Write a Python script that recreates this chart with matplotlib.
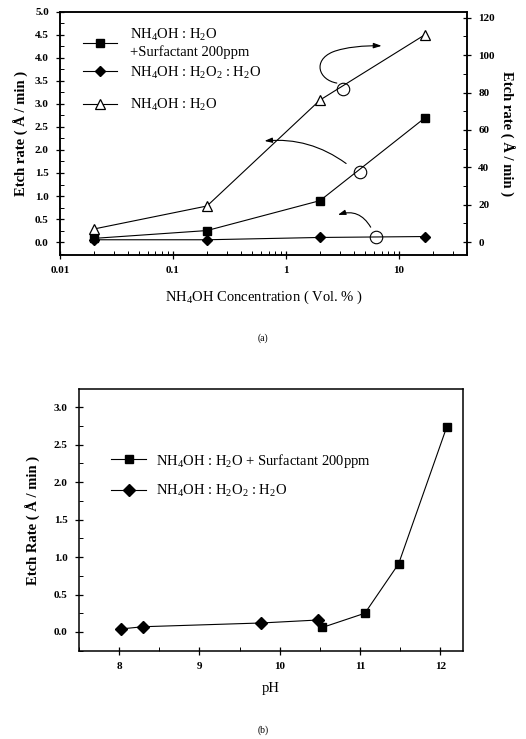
import numpy as np
import matplotlib
matplotlib.use('Agg')
import matplotlib.pyplot as plt
from matplotlib.path import Path
from matplotlib.patches import FancyArrowPatch
from matplotlib.ticker import MultipleLocator, LogLocator, NullFormatter, FixedLocator

plt.rcParams['font.family'] = ['Liberation Serif', 'DejaVu Serif']
plt.rcParams['mathtext.fontset'] = 'custom'
plt.rcParams['mathtext.rm'] = 'Liberation Serif'
plt.rcParams['mathtext.it'] = 'Liberation Serif:italic'
plt.rcParams['mathtext.bf'] = 'Liberation Serif:bold'

# ---- data (a): etch rate vs NH4OH concentration
conc = [0.02, 0.2, 2.0, 17.0]
surf_rate = [0.08, 0.25, 0.9, 2.7]        # left axis
h2o2_rate = [0.05, 0.05, 0.1, 0.12]       # left axis
h2o_rate = [7.0, 19.3, 76.0, 111.0]       # right axis

# ---- data (b): etch rate vs pH
ph_h2o2 = [8.02, 8.3, 9.77, 10.48]
rate_h2o2 = [0.04, 0.07, 0.12, 0.16]
ph_surf = [10.53, 11.06, 11.48, 12.08]
rate_surf = [0.06, 0.25, 0.91, 2.74]

lbl_surf = 'NH$_4$OH : H$_2$O\n+Surfactant 200ppm'
lbl_h2o2 = 'NH$_4$OH : H$_2$O$_2$ : H$_2$O'
lbl_h2o = 'NH$_4$OH : H$_2$O'

fig = plt.figure(figsize=(5.26, 7.39), dpi=100)

def style_ticks(ax):
    ax.tick_params(which='major', direction='inout', length=6, width=0.9,
                   labelsize=8, pad=5)
    ax.tick_params(which='minor', direction='in', length=3, width=0.7)
    for lab in ax.get_xticklabels() + ax.get_yticklabels():
        lab.set_fontweight('bold')
    for s in ax.spines.values():
        s.set_linewidth(1.1)

# ================= (a) =================
ax1 = fig.add_axes([0.114, 0.655, 0.774, 0.329])
ax1.set_xscale('log')
ax1.set_xlim(0.01, 40)
ax1.set_ylim(-0.28, 5.0)
ax1r = ax1.twinx()
ax1r.set_ylim(-0.28 * 24.64, 5.0 * 24.64)

l1, = ax1.plot(conc, surf_rate, '-', color='k', lw=0.8, marker='s', ms=5.5)
l2, = ax1.plot(conc, h2o2_rate, '-', color='k', lw=0.8, marker='D', ms=5.5)
l3, = ax1r.plot(conc, h2o_rate, '-', color='k', lw=0.8, marker='^', ms=7,
                mfc='white', mew=0.9)

ax1.set_xticks([0.01, 0.1, 1, 10])
ax1.set_xticklabels(['0.01', '0.1', '1', '10'])
ax1.xaxis.set_minor_locator(LogLocator(base=10, subs=np.arange(2, 10)))
ax1.xaxis.set_minor_formatter(NullFormatter())
ax1.yaxis.set_major_locator(MultipleLocator(0.5))
ax1.yaxis.set_minor_locator(MultipleLocator(0.25))
ax1.yaxis.set_major_formatter(plt.FormatStrFormatter('%.1f'))
ax1r.yaxis.set_major_locator(FixedLocator([0, 20, 40, 60, 80, 100, 120]))
ax1r.yaxis.set_minor_locator(MultipleLocator(10))
style_ticks(ax1)
style_ticks(ax1r)

ax1.set_ylabel('Etch rate ( Å / min )', fontsize=10.5, fontweight='bold', labelpad=4)
ax1r.set_ylabel('Etch rate ( Å / min )', fontsize=10.5, fontweight='bold',
                rotation=-90, labelpad=14)
ax1.set_xlabel('NH$_4$OH Concentration ( Vol. % )', fontsize=10.5, labelpad=10)

# legend split in two so the last entry sits lower, as in the original
leg1 = ax1.legend([l1, l2], [lbl_surf, lbl_h2o2], loc='upper left',
                  bbox_to_anchor=(0.025, 0.99), frameon=False, fontsize=10.5,
                  handlelength=2.3, handletextpad=0.9, labelspacing=0.35)
ax1.add_artist(leg1)
ax1.legend([l3], [lbl_h2o], loc='upper left',
           bbox_to_anchor=(0.025, 0.705), frameon=False, fontsize=10.5,
           handlelength=2.3, handletextpad=0.9)

# circles marking the curves and arrows pointing to the axes
circ_x = [3.2, 4.5, 6.3]
circ_y = [3.33, 1.53, 0.11]
ax1.plot(circ_x, circ_y, linestyle='none', marker='o', ms=9, mfc='none',
         mec='k', mew=0.8)

akw = dict(arrowstyle='-|>,head_length=0.45,head_width=0.15', color='k', lw=0.8)
ax1.annotate('', xy=(0.61, 2.19), xytext=(3.56, 1.67),
             arrowprops=dict(connectionstyle='arc3,rad=0.2', **akw))
ax1.annotate('', xy=(2.73, 0.57), xytext=(5.77, 0.27),
             arrowprops=dict(connectionstyle='arc3,rad=0.45', **akw))
loop = Path([(0.68, 0.707), (0.635, 0.72), (0.62, 0.80), (0.67, 0.835),
             (0.70, 0.855), (0.75, 0.862), (0.79, 0.86)],
            [Path.MOVETO, Path.CURVE4, Path.CURVE4, Path.CURVE4,
             Path.CURVE4, Path.CURVE4, Path.CURVE4])
ax1.add_patch(FancyArrowPatch(path=loop, transform=ax1.transAxes,
                              mutation_scale=10.5, **akw))

fig.text(0.5, 1 - 338 / 739, '(a)', ha='center', va='center', fontsize=7)

# ================= (b) =================
ax2 = fig.add_axes([0.150, 0.1195, 0.730, 0.3537])
ax2.set_xlim(7.5, 12.28)
ax2.set_ylim(-0.25, 3.24)
m1, = ax2.plot(ph_surf, rate_surf, '-', color='k', lw=0.8, marker='s', ms=6)
m2, = ax2.plot(ph_h2o2, rate_h2o2, '-', color='k', lw=0.8, marker='D', ms=6.5)
ax2.xaxis.set_major_locator(MultipleLocator(1))
ax2.xaxis.set_minor_locator(MultipleLocator(0.5))
ax2.yaxis.set_major_locator(MultipleLocator(0.5))
ax2.yaxis.set_minor_locator(MultipleLocator(0.25))
ax2.yaxis.set_major_formatter(plt.FormatStrFormatter('%.1f'))
style_ticks(ax2)
ax2.set_ylabel('Etch Rate ( Å / min )', fontsize=10.5, fontweight='bold', labelpad=9)
ax2.set_xlabel('pH', fontsize=10.5, labelpad=8)
ax2.legend([m1, m2], ['NH$_4$OH : H$_2$O + Surfactant 200ppm', lbl_h2o2],
           loc='upper left', bbox_to_anchor=(0.05, 0.812), frameon=False,
           fontsize=10.5, handlelength=2.4, handletextpad=0.65, labelspacing=0.9)

fig.text(0.5, 1 - 730 / 739, '(b)', ha='center', va='center', fontsize=7)

fig.savefig('out.png', dpi=100)
